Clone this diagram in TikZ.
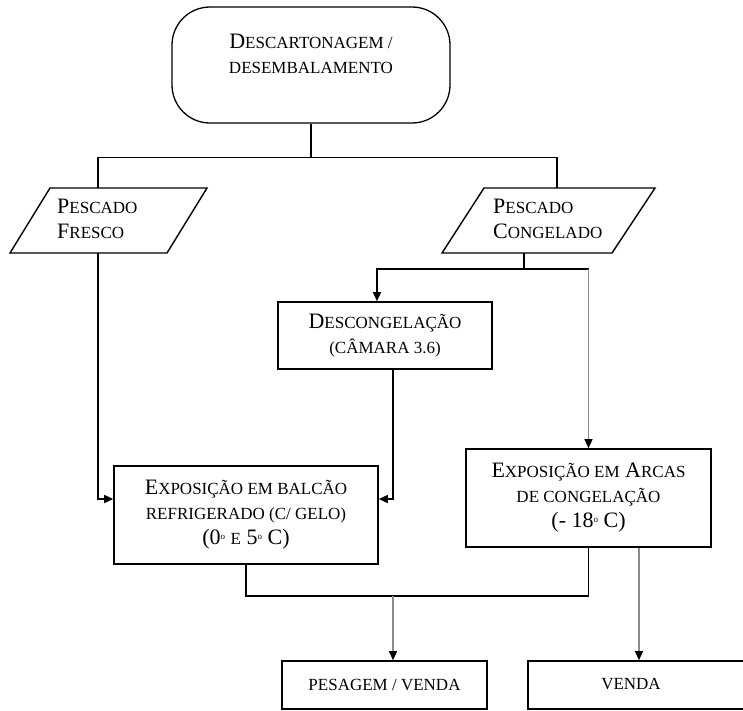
\documentclass[tikz,border=0pt]{standalone}
\usepackage{fontspec}
\setmainfont{Liberation Serif}
\usetikzlibrary{arrows.meta}
\newcommand\smc[1]{{\fontsize{17}{25}\selectfont #1}}
\newcommand\dgr{\raisebox{0.5ex}{\fontsize{9}{9}\selectfont o}}
\begin{document}
\begin{tikzpicture}[x=1pt,y=-1pt,
  ln/.style={line width=1.4pt, black},
  gl/.style={line width=1.1pt, black!45},
  arr/.style={-{Triangle[length=9pt,width=8pt,color=black,fill=black]}},
  box/.style={draw, line width=1.6pt, inner sep=0pt, align=center,
              font=\fontsize{22}{25}\selectfont},
  txt/.style={inner sep=0pt, font=\fontsize{22}{25}\selectfont}]
\useasboundingbox (0,0) rectangle (743,710);

% start terminal
\node[draw, line width=1.3pt, rounded corners=38pt, minimum width=278pt,
      minimum height=116pt] (start) at (311,65) {};
\node[txt, align=center] (starttxt) at (311,54)
  {D\smc{ESCARTONAGEM /}\\\smc{DESEMBALAMENTO}};

% parallelograms
\draw[line width=1.4pt] (50,188) -- (207,188) -- (167,253) -- (10,253) -- cycle;
\coordinate (pfTop) at (98,188);
\coordinate (pfBot) at (98,253);
\node[txt, align=left, anchor=west] (pftxt) at (57,219) {P\smc{ESCADO}\\F\smc{RESCO}};

\draw[line width=1.4pt] (484,188) -- (655,188) -- (612,253) -- (442,253) -- cycle;
\coordinate (pcTop) at (557,188);
\coordinate (pcBot) at (524,253);
\node[txt, align=left, anchor=west] (pctxt) at (493,219) {P\smc{ESCADO}\\C\smc{ONGELADO}};

% boxes
\node[box, minimum width=214pt, minimum height=67pt] (desc) at (385,335.5)
  {D\smc{ESCONGELAÇÃO}\\\smc{(CÂMARA 3.6)}};
\node[box, minimum width=264pt, minimum height=98pt] (balcao) at (246,515)
  {E\smc{XPOSIÇÃO EM BALCÃO}\\\smc{REFRIGERADO (C/ GELO)}\\(0\dgr\ \smc{E} 5\dgr\ C)};
\node[box, minimum width=245pt, minimum height=98pt] (arcas) at (588.5,498)
  {E\smc{XPOSIÇÃO EM} A\smc{RCAS}\\\smc{DE CONGELAÇÃO}\\(- 18\dgr\ C)};
\node[box, minimum width=205pt, minimum height=48pt] (pesagem) at (384.5,685)
  {\smc{PESAGEM / VENDA}};
\node[box, minimum width=232pt, minimum height=48pt] (venda) at (644,685) {};
\node[txt] (vendatxt) at (631,684) {\smc{VENDA}};

% connectors
\draw[ln] (start.south) -- ++(0,34) coordinate (split);
\draw[ln] (pfTop) |- (split) -| (pcTop);
\draw[ln,arr] (pfBot) |- ([yshift=16pt]balcao.west);
\draw[ln] (pcBot) -- ++(0,16) coordinate (split2);
\draw[ln,arr] (split2) -| ([xshift=-8pt]desc.north);
\draw[ln] (split2) -- (split2 -| arcas.north);
\draw[gl,arr] (split2 -| arcas.north) -- (arcas.north);
\draw[ln,arr] ([xshift=8pt]desc.south) |- ([yshift=16pt]balcao.east);
\coordinate (mj) at (393,596);
\draw[ln] (balcao.south) |- (mj) -| (arcas.south);
\draw[gl,arr] (mj) -- (mj |- pesagem.north);
\coordinate (av) at ([xshift=50.5pt]arcas.south);
\draw[gl,arr] (av) -- (av |- venda.north);
\end{tikzpicture}
\end{document}
